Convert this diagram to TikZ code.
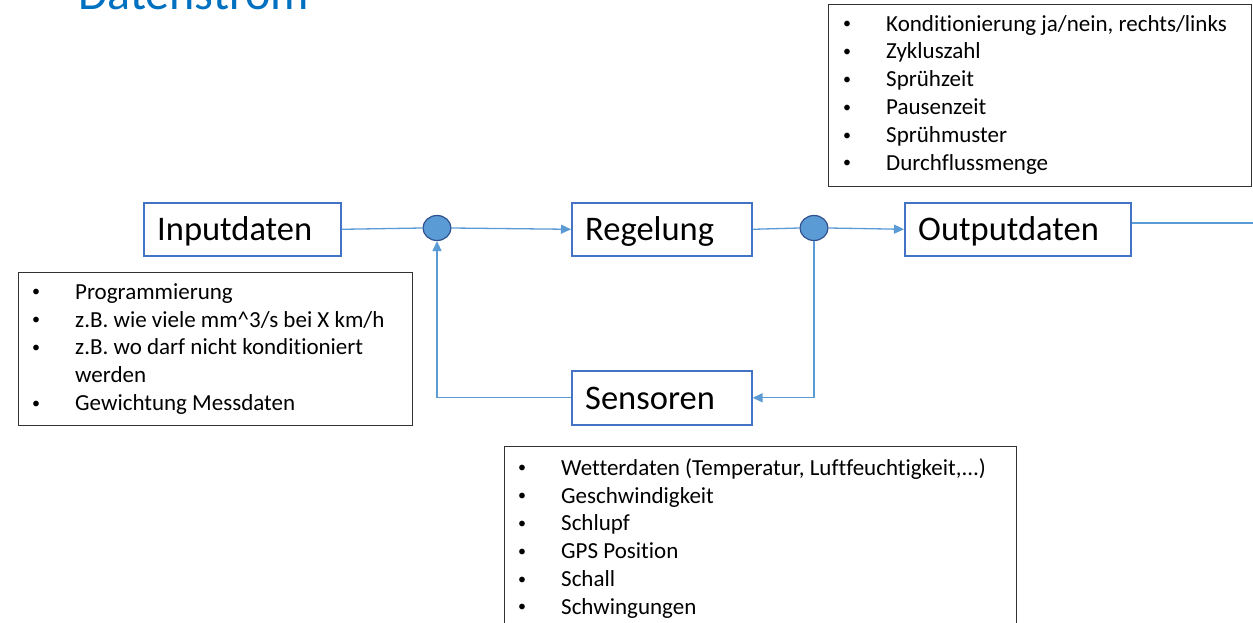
\documentclass[tikz,border=0pt]{standalone}
\usepackage{fontspec}
\setmainfont[Ligatures=NoCommon]{Carlito}
\usetikzlibrary{arrows.meta,shapes.geometric}
\definecolor{titleblue}{RGB}{0,112,192}
\definecolor{boxblue}{RGB}{68,114,196}
\definecolor{lineblue}{RGB}{91,155,213}
\definecolor{circfill}{RGB}{91,155,213}
\definecolor{circdraw}{RGB}{47,82,143}
\definecolor{listborder}{RGB}{50,50,50}
\newcommand\itm{\makebox[0pt]{\raisebox{2.3pt}{\fontsize{16}{16}\selectfont •}}\hspace{39pt}}
\begin{document}
\begin{tikzpicture}[x=1pt,y=-1pt,
  titlestyle/.style={inner sep=0pt, text=titleblue, font=\fontsize{48}{56}\selectfont},
  flowbox/.style={draw=boxblue, line width=1.6pt, fill=white, inner sep=0pt, minimum height=53pt},
  lbl/.style={inner sep=0pt, font=\fontsize{34.5}{41}\selectfont},
  junc/.style={ellipse, draw=circdraw, fill=circfill, line width=1.2pt, minimum width=28pt, minimum height=25pt, inner sep=0pt},
  conn/.style={draw=lineblue, line width=1.3pt},
  arr/.style={conn, -{Triangle[length=10pt,width=9pt]}},
  listbox/.style={draw=listborder, line width=1.1pt, inner sep=0pt},
  listtext/.style={inner sep=0pt, font=\fontsize{23}{27.8}\selectfont}]
\clip (0,0) rectangle (1253,623);
\fill[white] (0,0) rectangle (1253,623);
% title
\node[titlestyle, anchor=base west] (title) at (78,10) {Datenstrom};
% flow boxes
\node[flowbox, minimum width=197pt, anchor=north west] (inp) at (143,202) {};
\node[flowbox, minimum width=180pt, anchor=north west] (reg) at (571,202) {};
\node[flowbox, minimum width=226pt, anchor=north west] (out) at (904,202) {};
\node[flowbox, minimum width=180pt, minimum height=54pt, anchor=north west] (sen) at (571,370) {};
\node[lbl, anchor=base west] (inpT) at (157,240) {Inputdaten};
\node[lbl, anchor=base west] (regT) at (585,240) {Regelung};
\node[lbl, anchor=base west] (outT) at (918,240) {Outputdaten};
\node[lbl, anchor=base west] (senT) at (585,409) {Sensoren};
% junctions
\node[junc] (c1) at (437,228) {};
\node[junc] (c2) at (814,228) {};
\coordinate (edge) at (1253,223);
% connectors
\draw[conn] (inp.east) -- (c1.west);
\draw[arr] (c1.east) -- (reg.west);
\draw[conn] (reg.east) -- (c2.west);
\draw[arr] (c2.east) -- (out.west);
\draw[conn] (out.east |- edge) -- (edge);
\draw[arr] (c2.south) |- (sen.east);
\draw[arr] (sen.west) -| (c1.south);
% list boxes
\node[listbox, anchor=north west, minimum width=423pt, minimum height=182pt] (kbox) at (828,4) {};
\node[listtext, anchor=north west] (ktext) at (847,11.54) {\begin{tabular}{@{}l@{}}
\itm Konditionierung ja/nein, rechts/links\\
\itm Zykluszahl\\
\itm Sprühzeit\\
\itm Pausenzeit\\
\itm Sprühmuster\\
\itm Durchflussmenge
\end{tabular}};
\node[listbox, anchor=north west, minimum width=394pt, minimum height=153pt] (ibox) at (18,272) {};
\node[listtext, anchor=north west] (itext) at (36,279.54) {\begin{tabular}{@{}l@{}}
\itm Programmierung\\
\itm z.B. wie viele mm\textasciicircum 3/s bei X km/h\\
\itm z.B. wo darf nicht konditioniert\\
\hspace{39pt}werden\\
\itm Gewichtung Messdaten
\end{tabular}};
\node[listbox, anchor=north west, minimum width=512pt, minimum height=200pt] (sbox) at (504,446) {};
\node[listtext, anchor=north west] (stext) at (522,455.54) {\begin{tabular}{@{}l@{}}
\itm Wetterdaten (Temperatur, Luftfeuchtigkeit,...)\\
\itm Geschwindigkeit\\
\itm Schlupf\\
\itm GPS Position\\
\itm Schall\\
\itm Schwingungen
\end{tabular}};
\end{tikzpicture}
\end{document}
